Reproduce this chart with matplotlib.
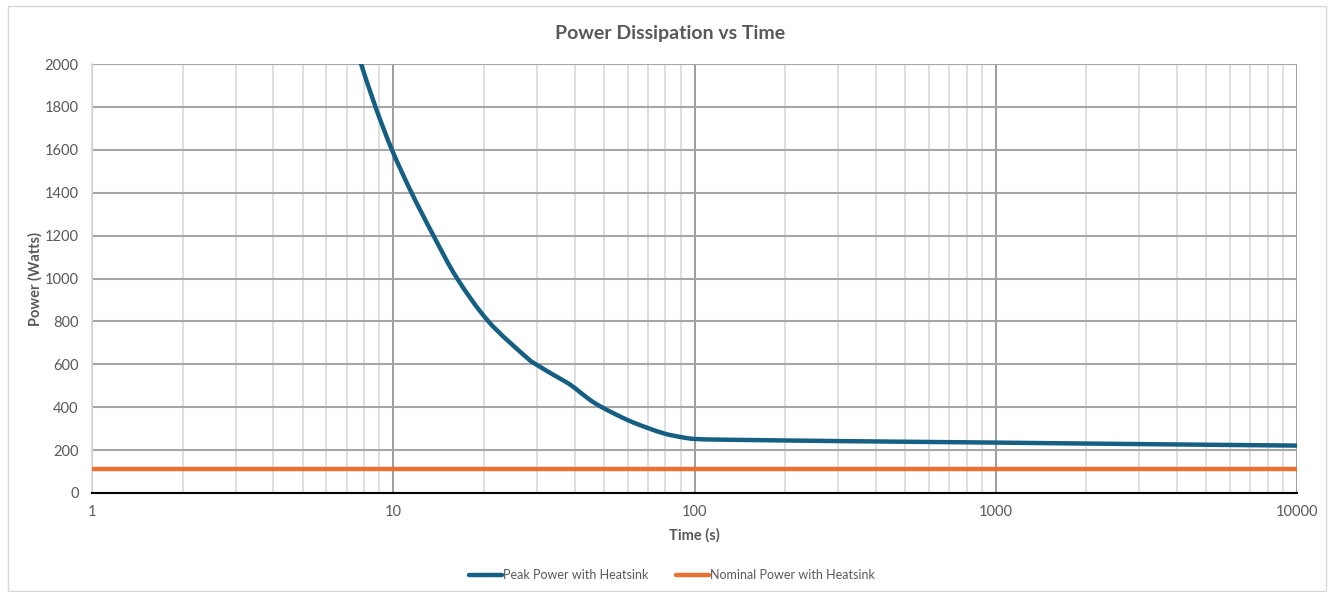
import matplotlib
matplotlib.use("Agg")
import numpy as np
import matplotlib.pyplot as plt
from matplotlib.patches import Rectangle, PathPatch
from matplotlib.path import Path
from matplotlib.lines import Line2D
from matplotlib.ticker import FixedLocator, NullFormatter

# Data
time_s = [7.6, 7.82, 8.73, 9.9, 11.5, 13.6, 16.3, 20.7, 27.5, 30, 34.9, 37.7, 40,
          45, 50, 60, 70, 80, 90, 100, 120, 153, 300, 1000, 3000, 10000]
peak_power = [2060, 2000, 1800, 1600, 1400, 1200, 1000, 800, 636, 597, 542, 515, 490,
              434, 395, 340, 303, 276, 261, 252, 249, 247, 242, 235, 228, 221]
nominal_time = [1, 10000]
nominal_power = [110, 110]
series_names = ["Peak Power with Heatsink", "Nominal Power with Heatsink"]
y_ticks = [0, 200, 400, 600, 800, 1000, 1200, 1400, 1600, 1800, 2000]
x_ticks = [1, 10, 100, 1000, 10000]
x_tick_labels = ["1", "10", "100", "1000", "10000"]

plt.rcParams['font.family'] = ['Lato', 'DejaVu Sans']
W, H = 1328, 592
fig = plt.figure(figsize=(W/100, H/100), dpi=100)
fig.patches.append(Rectangle((8/W, 1/H), 1318/W, (H-7)/H, transform=fig.transFigure,
                             fill=False, edgecolor='#d9d9d9', linewidth=1))
ax = fig.add_axes([92/W, 1-493/H, (1297-92)/W, (493-64)/H])

c_peak = '#156082'
c_nom = '#e97132'
txt = '#595959'
LW = 3.2


def smoothed_path(xs, ys):
    """Excel-like smoothed line: Catmull-Rom segments as cubic Beziers in log-x space."""
    u = np.log10(np.asarray(xs, float))
    v = np.asarray(ys, float)
    pts = np.column_stack([u, v])
    n = len(pts)
    verts = [pts[0]]
    codes = [Path.MOVETO]
    for i in range(n - 1):
        p0 = pts[i - 1] if i > 0 else pts[i]
        p1 = pts[i]
        p2 = pts[i + 1]
        p3 = pts[i + 2] if i + 2 < n else pts[i + 1]
        c1 = p1 + (p2 - p0) / 6.0
        c2 = p2 - (p3 - p1) / 6.0
        verts += [c1, c2, p2]
        codes += [Path.CURVE4] * 3
    verts = np.array(verts)
    verts[:, 0] = 10 ** verts[:, 0]
    return Path(verts, codes)


ax.add_patch(PathPatch(smoothed_path(time_s, peak_power), fill=False, edgecolor=c_peak,
                       linewidth=LW, capstyle='butt', joinstyle='round', zorder=3))
ax.plot(nominal_time, nominal_power, color=c_nom, linewidth=LW, solid_capstyle='butt', zorder=3)

ax.set_xscale('log')
ax.set_xlim(1, 10000)
ax.set_ylim(0, 2000)
ax.set_yticks(y_ticks)
ax.xaxis.set_major_locator(FixedLocator(x_ticks))
ax.set_xticklabels(x_tick_labels)
minors = [m*10**d for d in range(4) for m in range(2, 10)]
ax.xaxis.set_minor_locator(FixedLocator(minors))
ax.xaxis.set_minor_formatter(NullFormatter())

ax.grid(which='minor', axis='x', color='#d9d9d9', linewidth=1.2)
ax.grid(which='major', axis='x', color='#8c8c8c', linewidth=1.2)
ax.grid(which='major', axis='y', color='#a6a6a6', linewidth=1.5)
ax.set_axisbelow(True)

for s in ['top', 'right']:
    ax.spines[s].set_visible(False)
ax.spines['left'].set_color('#d9d9d9')
ax.spines['left'].set_linewidth(1.2)
ax.spines['bottom'].set_color('#000000')
ax.spines['bottom'].set_linewidth(1.5)
ax.spines['bottom'].set_zorder(4)

ax.tick_params(which='both', length=0)
ax.tick_params(axis='y', labelsize=10.5, labelcolor=txt, pad=9.5)
ax.tick_params(axis='x', labelsize=10.5, labelcolor=txt, pad=9)

ax.set_xlabel('Time (s)', fontsize=10.5, fontweight='bold', color=txt, labelpad=6)
ax.set_ylabel('Power (Watts)', fontsize=10.5, fontweight='bold', color=txt)
ax.yaxis.set_label_coords(-0.0407, 0.5)
fig.text(670/W, 1-33/H, 'Power Dissipation vs Time', ha='center', va='center',
         fontsize=14, fontweight='bold', color=txt)

handles = [Line2D([], [], color=c_peak, linewidth=LW, solid_capstyle='round'),
           Line2D([], [], color=c_nom, linewidth=LW, solid_capstyle='round')]
leg = fig.legend(handles, series_names, loc='center', bbox_to_anchor=(672/W, 1-575/H), ncol=2,
                 frameon=False, fontsize=9, labelcolor=txt, handlelength=2.6,
                 handletextpad=0.1, columnspacing=2.2)

fig.savefig('out.png', dpi=100)
